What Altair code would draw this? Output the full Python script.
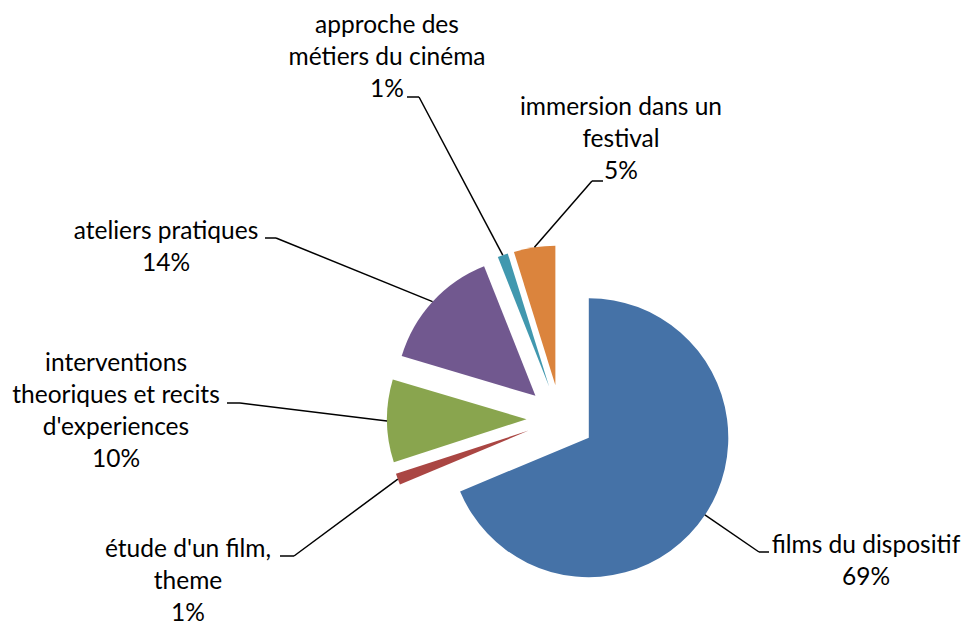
import altair as alt
import pandas as pd

# ---- data ----
categories = [
    "films du dispositif",
    "étude d'un film, theme",
    "interventions theoriques et recits d'experiences",
    "ateliers pratiques",
    "approche des métiers du cinéma",
    "immersion dans un festival",
]
values = [68.7, 1.3, 9.6, 14.4, 1.2, 4.8]
# label text as wrapped in the reference
label_text = [
    "films du dispositif",
    "étude d'un film,\ntheme",
    "interventions\ntheoriques et recits\nd'experiences",
    "ateliers pratiques",
    "approche des\nmétiers du cinéma",
    "immersion dans un\nfestival",
]
colors = ["#4572A7", "#AA4643", "#89A54E", "#71588F", "#4198AF", "#DB843D"]

# ---- layout (pixels inside the chart) ----
CX, CY = 552.5, 410.8      # pie centre
EXPLODE = 34               # slice explosion
RADIUS = 139.5
label_cx = [858, 180, 108, 158, 379, 613]     # label block centre
label_base = [545, 549, 363, 231, 25, 107]    # first-line baseline
elbow_x = [751, 286, 232, 268, 411, 584]
elbow_y = [544, 548, 395, 230, 89, 173]
end_x = [761, 272, 219, 257, 399, 595]

df = pd.DataFrame({
    "name": categories,
    "value": values,
    "wrapped": label_text,
    "order": list(range(len(categories))),
    "lx": label_cx,
    "ly": label_base,
    "bx": elbow_x,
    "by": elbow_y,
    "ex": end_x,
})

base = (
    alt.Chart(df)
    .transform_joinaggregate(total="sum(value)")
    .transform_window(cum="sum(value)", sort=[alt.SortField("order")], frame=[None, 0])
    .transform_calculate(
        a0="2*PI*(datum.cum - datum.value)/datum.total",
        a1="2*PI*datum.cum/datum.total",
    )
    .transform_calculate(mid="(datum.a0 + datum.a1)/2")
    .transform_calculate(
        vx=f"{CX} + {EXPLODE}*sin(datum.mid)",
        vy=f"{CY} - {EXPLODE}*cos(datum.mid)",
        sx=f"{CX} + {EXPLODE + RADIUS}*sin(datum.mid)",
        sy=f"{CY} - {EXPLODE + RADIUS}*cos(datum.mid)",
        label="datum.wrapped + '\\n' + format(datum.value/datum.total, '.0%')",
    )
)

arcs = base.mark_arc(radius=RADIUS).encode(
    x=alt.X("vx:Q", scale=None, axis=None),
    y=alt.Y("vy:Q", scale=None, axis=None),
    theta=alt.Theta("a0:Q", scale=None, stack=None),
    theta2="a1:Q",
    color=alt.Color("name:N", scale=alt.Scale(domain=categories, range=colors), legend=None),
)

lead1 = base.mark_rule(color="#000000", strokeWidth=1.5).encode(
    x=alt.X("sx:Q", scale=None, axis=None),
    y=alt.Y("sy:Q", scale=None, axis=None),
    x2="bx:Q",
    y2="by:Q",
)
lead2 = base.mark_rule(color="#000000", strokeWidth=1.5).encode(
    x=alt.X("bx:Q", scale=None, axis=None),
    y=alt.Y("by:Q", scale=None, axis=None),
    x2="ex:Q",
    y2="by:Q",
)

labels = base.mark_text(
    font="Lato", fontSize=24.5, color="#000000", align="center",
    baseline="alphabetic", lineBreak="\n", lineHeight=32,
).encode(
    x=alt.X("lx:Q", scale=None, axis=None),
    y=alt.Y("ly:Q", scale=None, axis=None),
    text="label:N",
)

chart = (
    alt.layer(arcs, lead1, lead2, labels)
    .properties(width=955, height=621, autosize="none", padding=0, background="white")
    .configure_view(stroke=None)
)

chart.save("out.html", embed_options={"renderer": "svg", "actions": False})
